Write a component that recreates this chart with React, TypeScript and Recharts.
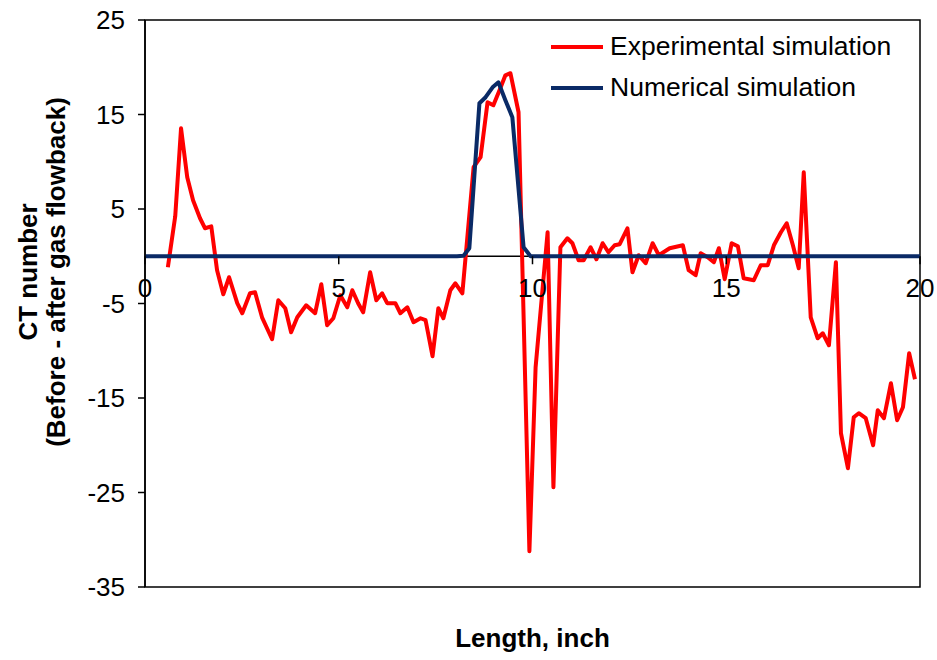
import React from "react";
import {
  LineChart,
  Line,
  XAxis,
  YAxis,
  Legend,
  ReferenceLine,
  ReferenceArea,
  ReferenceDot,
} from "recharts";

// Experimental simulation (red)
const expX = [
  0.59, 0.78, 0.93, 1.09, 1.24, 1.42, 1.55, 1.71, 1.86, 2.02, 2.17, 2.38, 2.51, 2.71, 2.84, 3.02, 3.28, 3.44,
  3.62, 3.77, 3.93, 4.16, 4.39, 4.55, 4.7, 4.86, 5.04, 5.22, 5.35, 5.5, 5.63, 5.81, 5.97, 6.12, 6.25, 6.46,
  6.59, 6.77, 6.93, 7.11, 7.24, 7.42, 7.57, 7.7, 7.88, 8.01, 8.19, 8.48, 8.66, 8.84, 8.99, 9.17, 9.3, 9.43,
  9.64, 9.92, 10.08, 10.39, 10.54, 10.72, 10.9, 11.03, 11.19, 11.32, 11.5, 11.65, 11.81, 11.96, 12.12, 12.25,
  12.45, 12.58, 12.74, 12.92, 13.1, 13.26, 13.54, 13.88, 14.03, 14.21, 14.34, 14.52, 14.68, 14.81, 14.96,
  15.14, 15.3, 15.45, 15.71, 15.89, 16.07, 16.23, 16.41, 16.56, 16.72, 16.87, 17.0, 17.18, 17.36, 17.49,
  17.65, 17.83, 17.96, 18.14, 18.29, 18.42, 18.6, 18.79, 18.91, 19.07, 19.25, 19.41, 19.56, 19.72, 19.87,
];
const expY = [
  -1.16, 4.23, 13.54, 8.36, 5.93, 4.02, 2.96, 3.17, -1.48, -4.02, -2.22, -4.97, -6.03, -3.92, -3.81, -6.46,
  -8.78, -4.66, -5.5, -8.04, -6.46, -5.19, -6.03, -2.96, -7.3, -6.56, -4.13, -5.4, -3.6, -4.97, -5.93, -1.69,
  -4.66, -3.92, -4.97, -4.97, -6.03, -5.4, -6.98, -6.56, -6.77, -10.58, -5.5, -6.56, -3.6, -2.86, -3.92, 9.42,
  10.48, 16.3, 15.98, 17.78, 19.15, 19.37, 15.24, -31.22, -11.75, 2.54, -24.44, 0.95, 1.9, 1.38, -0.42, -0.42,
  0.95, -0.32, 1.38, 0.42, 1.16, 1.27, 2.96, -1.69, 0.11, -0.74, 1.38, 0.11, 0.85, 1.16, -1.48, -2.01, 0.32,
  -0.11, -0.63, 0.85, -2.43, 1.38, 1.06, -2.33, -2.54, -0.95, -0.95, 1.16, 2.54, 3.49, 1.16, -1.27, 8.89,
  -6.46, -8.68, -8.15, -9.42, -0.63, -18.73, -22.43, -17.04, -16.61, -17.14, -20.0, -16.3, -17.14, -13.44,
  -17.35, -15.98, -10.26, -13.02,
];

// Numerical simulation (navy)
const numX = [0, 8.05, 8.22, 8.37, 8.63, 8.79, 8.97, 9.12, 9.3, 9.48, 9.77, 9.95, 20];
const numY = [0, 0, 0.05, 0.85, 16.19, 16.83, 17.88, 18.41, 16.51, 14.71, 0.95, 0, 0];

const xTicks = [0, 5, 10, 15, 20];
const yTicks = [25, 15, 5, -5, -15, -25, -35];

const seriesNames = ["Experimental simulation", "Numerical simulation"];
const xTitle = "Length, inch";
const yTitleLines = ["CT number", "(Before - after gas flowback)"];

const expData = expX.map((x, i) => ({ x, y: expY[i] }));
const numData = numX.map((x, i) => ({ x, y: numY[i] }));

const FONT = "'Liberation Sans', Arial, sans-serif";

const LegendContent = (props: any) => {
  const { payload } = props;
  return (
    <div style={{ fontFamily: FONT }}>
      {(payload || []).map((entry: any) => (
        <div key={entry.value} style={{ display: "flex", alignItems: "center", height: 41 }}>
          <svg width={54} height={8} style={{ display: "block" }}>
            <line x1={1} y1={4} x2={53} y2={4} stroke={entry.color} strokeWidth={4} />
          </svg>
          <span style={{ marginLeft: 6, fontSize: 26.5, color: "#000", lineHeight: "41px", whiteSpace: "nowrap" }}>
            {entry.value}
          </span>
        </div>
      ))}
    </div>
  );
};

const XTickShape = (label: number) => (p: any) => {
  const { cx, cy } = p;
  return (
    <g>
      <line x1={cx} y1={cy} x2={cx} y2={cy + 8} stroke="#000" strokeWidth={1.5} />
      <text x={cx} y={cy + 41} textAnchor="middle" fontSize={26} fontFamily={FONT} fill="#000">
        {label}
      </text>
    </g>
  );
};

const YTitle = (p: any) => {
  const vb = p.viewBox || {};
  const cx = (vb.x ?? 0) + 47;
  const cy = 272;
  return (
    <text
      transform={`translate(${cx}, ${cy}) rotate(-90)`}
      textAnchor="middle"
      fontSize={26}
      fontWeight="bold"
      fontFamily={FONT}
      fill="#000"
    >
      <tspan x={0} dy={-10}>{yTitleLines[0]}</tspan>
      <tspan x={0} dy={28}>{yTitleLines[1]}</tspan>
    </text>
  );
};

export default function App() {
  return (
    <div style={{ position: "absolute", left: 0, top: 0, background: "#fff" }}>
      <LineChart
        width={937}
        height={660}
        margin={{ top: 20, right: 17, bottom: 0, left: 0 }}
        style={{ fontFamily: FONT }}
      >
        <XAxis
          type="number"
          dataKey="x"
          domain={[0, 20]}
          ticks={xTicks}
          tick={false}
          tickLine={false}
          axisLine={false}
          height={73}
          allowDuplicatedCategory={false}
          label={{
            value: xTitle,
            position: "insideBottom",
            offset: 13,
            fontSize: 26,
            fontWeight: "bold",
            fill: "#000",
            fontFamily: FONT,
          }}
        />
        <YAxis
          type="number"
          dataKey="y"
          domain={[-35, 25]}
          ticks={yTicks}
          interval={0}
          width={145}
          tickSize={7}
          tickMargin={13}
          axisLine={{ stroke: "#000", strokeWidth: 1.5 }}
          tickLine={{ stroke: "#000", strokeWidth: 1.5 }}
          tick={{ fontSize: 26, fill: "#000", fontFamily: FONT }}
          label={<YTitle />}
        />
        <ReferenceArea
          x1={0}
          x2={20}
          y1={-35}
          y2={25}
          fill="none"
          fillOpacity={0}
          stroke="#000"
          strokeWidth={1.5}
          ifOverflow="visible"
        />
        <ReferenceLine y={0} stroke="#000" strokeWidth={1.5} />
        {xTicks.map((t) => (
          <ReferenceDot key={t} x={t} y={0} r={0} ifOverflow="visible" shape={XTickShape(t)} />
        ))}
        <Legend
          layout="vertical"
          verticalAlign="middle"
          align="center"
          wrapperStyle={{ top: 26, left: 550, width: 380 }}
          content={<LegendContent />}
        />
        <Line
          data={expData}
          dataKey="y"
          name={seriesNames[0]}
          type="linear"
          stroke="#FF0000"
          strokeWidth={4}
          dot={false}
          activeDot={false}
          isAnimationActive={false}
          strokeLinejoin="round"
        />
        <Line
          data={numData}
          dataKey="y"
          name={seriesNames[1]}
          type="linear"
          stroke="#0A2A66"
          strokeWidth={4}
          dot={false}
          activeDot={false}
          isAnimationActive={false}
          strokeLinejoin="round"
        />
      </LineChart>
    </div>
  );
}
